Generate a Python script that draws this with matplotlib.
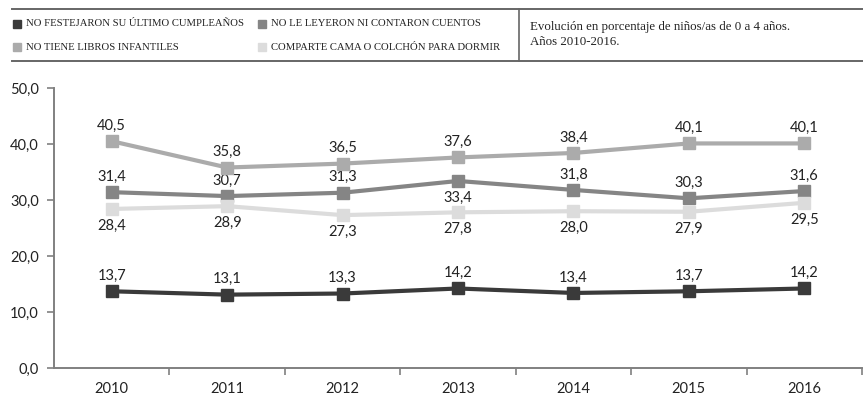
import matplotlib
matplotlib.use("Agg")
import matplotlib.pyplot as plt
from matplotlib.lines import Line2D

years = ["2010", "2011", "2012", "2013", "2014", "2015", "2016"]
no_festejaron = [13.7, 13.1, 13.3, 14.2, 13.4, 13.7, 14.2]
no_leyeron = [31.4, 30.7, 31.3, 33.4, 31.8, 30.3, 31.6]
no_libros = [40.5, 35.8, 36.5, 37.6, 38.4, 40.1, 40.1]
comparte_cama = [28.4, 28.9, 27.3, 27.8, 28.0, 27.9, 29.5]
yticks = [0, 10, 20, 30, 40, 50]

series = [
    ("NO FESTEJARON SU ÚLTIMO CUMPLEAÑOS", no_festejaron, "#3a3a3a", ["above"] * 7),
    ("NO LE LEYERON NI CONTARON CUENTOS", no_leyeron, "#858585",
     ["above", "above", "above", "below", "above", "above", "above"]),
    ("NO TIENE LIBROS INFANTILES", no_libros, "#ababab", ["above"] * 7),
    ("COMPARTE CAMA O COLCHÓN PARA DORMIR", comparte_cama, "#dcdcdc", ["below"] * 7),
]

fig = plt.figure(figsize=(8.63, 3.96), dpi=100)
ax = fig.add_axes([54 / 863, 1 - 368 / 396, 808 / 863, 280 / 396])

x = list(range(len(years)))
tick_font = "Lato"
for name, vals, col, pos in series:
    ax.plot(x, vals, color=col, lw=3.0, marker="s", ms=9, mec=col, mfc=col, zorder=3)
    for xi, v, p in zip(x, vals, pos):
        lab = f"{v:.1f}".replace(".", ",")
        if p == "above":
            ax.annotate(lab, (xi, v), xytext=(0, 6), textcoords="offset points",
                        ha="center", va="bottom", fontsize=10.5, family=tick_font, color="#222222")
        else:
            ax.annotate(lab, (xi, v), xytext=(0, -7), textcoords="offset points",
                        ha="center", va="top", fontsize=10.5, family=tick_font, color="#222222")

ax.set_xlim(-0.5, len(years) - 0.5)
ax.set_ylim(0, 50)
ax.set_yticks(yticks)
ax.set_yticklabels([f"{t:.1f}".replace(".", ",") for t in yticks], fontsize=10.5, family=tick_font, color="#222222")
ax.set_xticks([i + 0.5 for i in range(len(years))])
ax.set_xticklabels([])
ax.set_xticks(x, minor=True)
ax.set_xticklabels(years, minor=True, fontsize=10.5, family=tick_font, color="#222222")
ax.tick_params(axis="x", which="minor", length=0, pad=10)
ax.tick_params(axis="x", which="major", length=5, width=1.2, color="#808080", direction="out")
ax.tick_params(axis="y", length=5, width=1.2, color="#808080", pad=6)
for s in ["top", "right"]:
    ax.spines[s].set_visible(False)
for s in ["left", "bottom"]:
    ax.spines[s].set_color("#808080")
    ax.spines[s].set_linewidth(1.4)

# Legend box
line_col = "#666666"
fig.add_artist(Line2D([12 / 863, 1], [1 - 9 / 396] * 2, color=line_col, lw=1.4))
fig.add_artist(Line2D([12 / 863, 1], [1 - 61 / 396] * 2, color=line_col, lw=1.4))
fig.add_artist(Line2D([519 / 863] * 2, [1 - 9 / 396, 1 - 61 / 396], color=line_col, lw=1.2))

leg_items = [
    (series[0][0], series[0][2], 13, 24),
    (series[1][0], series[1][2], 258, 24),
    (series[2][0], series[2][2], 13, 47),
    (series[3][0], series[3][2], 258, 47),
]
for name, col, px, py in leg_items:
    fig.patches.append(plt.Rectangle((px / 863, 1 - (py + 4) / 396), 8 / 863, 8 / 396,
                                     transform=fig.transFigure, color=col, figure=fig))
    fig.text((px + 13) / 863, 1 - py / 396, name, fontsize=7.7, family="Liberation Serif",
             va="center", ha="left", color="#222222")

fig.text(530 / 863, 1 - 27 / 396, "Evolución en porcentaje de niños/as de 0 a 4 años.",
         fontsize=9.3, family="Liberation Serif", va="center", ha="left", color="#222222")
fig.text(530 / 863, 1 - 42 / 396, "Años 2010-2016.",
         fontsize=9.3, family="Liberation Serif", va="center", ha="left", color="#222222")

fig.savefig("out.png", dpi=100)
